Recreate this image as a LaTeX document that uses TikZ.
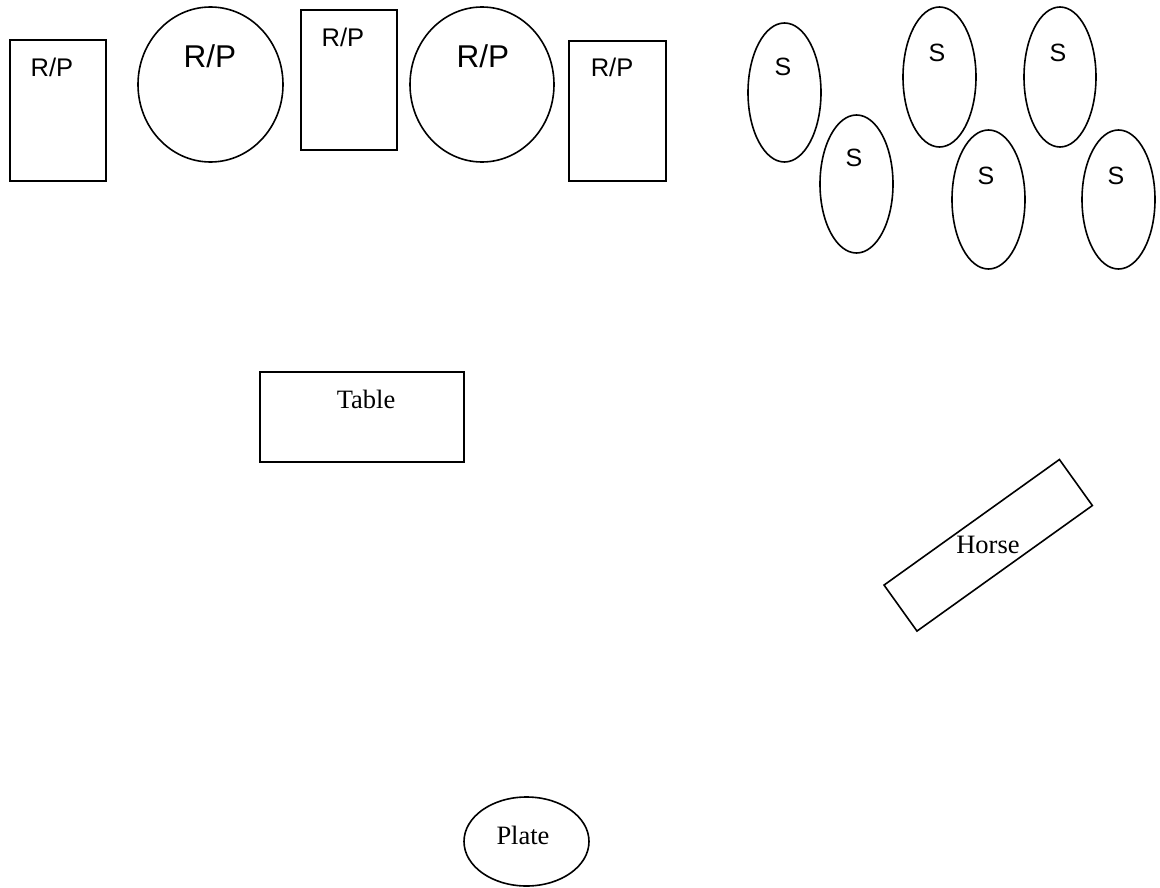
\documentclass[tikz,border=0pt]{standalone}
\usepackage{fontspec}
\setmainfont{Liberation Serif}
\newfontfamily\arialfont{Liberation Sans}
\usetikzlibrary{shapes.geometric}
\tikzset{
  shp/.style={draw=black, line width=1.6pt, inner sep=0pt, outer sep=0pt, fill=none},
  boxshape/.style={shp, rectangle},
  ovalshape/.style={shp, ellipse},
  rptext/.style={font=\arialfont\fontsize{25.5}{30}\selectfont, anchor=base, inner sep=0pt},
  rpbig/.style={font=\arialfont\fontsize{31.5}{36}\selectfont, anchor=base, inner sep=0pt},
  stext/.style={font=\arialfont\fontsize{25}{29}\selectfont, anchor=base, inner sep=0pt},
  serif/.style={font=\fontsize{26.5}{31}\selectfont, anchor=base, inner sep=0pt}
}
\begin{document}
\begin{tikzpicture}[x=1pt,y=-1pt]
\useasboundingbox (0,0) rectangle (1160,888);
% top row R/P
\node[boxshape, minimum width=96pt, minimum height=141pt] (rp1) at (58,110.5) {};
\node[rptext] (rp1t) at (52,77) {R/P};
\node[ovalshape, minimum width=145pt, minimum height=155pt] (rp2) at (210.5,84.5) {};
\node[rpbig] (rp2t) at (210,68) {R/P};
\node[boxshape, minimum width=96pt, minimum height=140pt] (rp3) at (349,80) {};
\node[rptext] (rp3t) at (343,47) {R/P};
\node[ovalshape, minimum width=144pt, minimum height=155pt] (rp4) at (482,84.5) {};
\node[rpbig] (rp4t) at (483,68) {R/P};
\node[boxshape, minimum width=97pt, minimum height=140pt] (rp5) at (617.5,111) {};
\node[rptext] (rp5t) at (612,77) {R/P};
% S ellipses
\node[ovalshape, minimum width=73pt, minimum height=139pt] (s1) at (784.5,92.5) {};
\node[stext] (s1t) at (783,76) {S};
\node[ovalshape, minimum width=73pt, minimum height=138pt] (s2) at (856.5,184) {};
\node[stext] (s2t) at (854,167) {S};
\node[ovalshape, minimum width=73pt, minimum height=140pt] (s3) at (939.5,77) {};
\node[stext] (s3t) at (937,62) {S};
\node[ovalshape, minimum width=72pt, minimum height=140pt] (s4) at (1060,77) {};
\node[stext] (s4t) at (1058,62) {S};
\node[ovalshape, minimum width=73pt, minimum height=139pt] (s5) at (988.5,199.5) {};
\node[stext] (s5t) at (986,185) {S};
\node[ovalshape, minimum width=73pt, minimum height=139pt] (s6) at (1118.5,199.5) {};
\node[stext] (s6t) at (1116,185) {S};
% Table
\node[boxshape, minimum width=204pt, minimum height=90pt] (table) at (362,417) {};
\node[serif] (tablet) at (366,408) {Table};
% Horse
\node[boxshape, minimum width=215.7pt, minimum height=56.6pt, rotate=35.6] (horse) at (988.2,545.3) {};
\node[serif] (horset) at (988,553) {Horse};
% Plate
\node[ovalshape, minimum width=125pt, minimum height=89pt] (plate) at (526.5,841.5) {};
\node[serif] (platet) at (523,844) {Plate};
\end{tikzpicture}
\end{document}
